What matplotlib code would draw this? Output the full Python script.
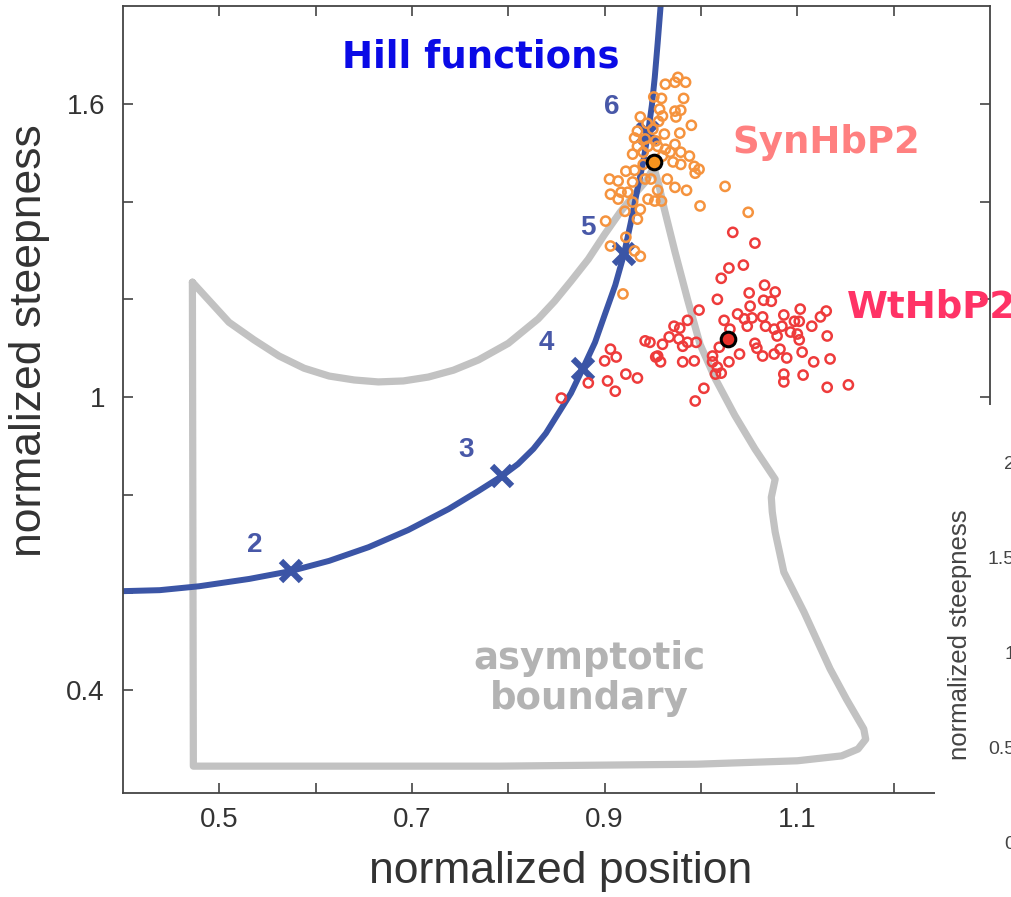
import matplotlib
matplotlib.use('Agg')
import matplotlib.pyplot as plt
from matplotlib.patches import Rectangle

# ---------------------------------------------------------------
# data
# ---------------------------------------------------------------
hill_x = [0.400, 0.438, 0.479, 0.531, 0.574, 0.614, 0.655, 0.696, 0.738,
          0.769, 0.793, 0.810, 0.826, 0.839, 0.852, 0.865, 0.877, 0.890,
          0.900, 0.911, 0.920, 0.927, 0.934, 0.940, 0.945, 0.949, 0.952,
          0.955, 0.958, 0.959]
hill_y = [0.603, 0.605, 0.613, 0.628, 0.644, 0.665, 0.693, 0.728, 0.771,
          0.808, 0.838, 0.863, 0.894, 0.926, 0.967, 1.008, 1.057, 1.112,
          1.168, 1.229, 1.292, 1.356, 1.425, 1.481, 1.540, 1.597, 1.654,
          1.724, 1.798, 1.826]

hill_n = ['2', '3', '4', '5', '6']
cross_x = [0.574, 0.793, 0.877, 0.920, 0.945]
cross_y = [0.644, 0.838, 1.057, 1.292, 1.540]

bound_x = [0.472, 0.510, 0.536, 0.562, 0.588, 0.614, 0.640, 0.665, 0.691,
           0.717, 0.743, 0.769, 0.800, 0.831, 0.848, 0.865, 0.883, 0.900,
           0.916, 0.931, 0.943, 0.951, 0.956, 0.962, 0.973, 0.986, 0.999,
           1.015, 1.035, 1.056, 1.077, 1.073, 1.074, 1.077, 1.086, 1.107,
           1.134, 1.151, 1.169, 1.171, 1.163, 1.146, 1.100, 0.996, 0.790,
           0.473, 0.472]
bound_y = [1.235, 1.153, 1.117, 1.084, 1.059, 1.043, 1.035, 1.031, 1.033,
           1.041, 1.055, 1.076, 1.110, 1.160, 1.196, 1.237, 1.282, 1.333,
           1.378, 1.415, 1.442, 1.470, 1.436, 1.384, 1.297, 1.200, 1.108,
           1.037, 0.963, 0.894, 0.832, 0.795, 0.765, 0.724, 0.642, 0.560,
           0.444, 0.382, 0.321, 0.300, 0.280, 0.266, 0.256, 0.249, 0.245,
           0.245, 1.235]

syn_x = [0.976, 0.984, 0.973, 0.963, 0.982, 0.951, 0.959, 0.957, 0.973, 0.979,
         0.960, 0.974, 0.956, 0.937, 0.944, 0.990, 0.934, 0.978, 0.931, 0.942,
         0.953, 0.934, 0.945, 0.973, 0.963, 0.955, 0.929, 0.940, 0.968, 0.979,
         0.988, 0.960, 0.971, 0.979, 0.993, 0.998, 0.994, 0.922, 0.931, 0.942,
         0.905, 0.914, 0.929, 0.965, 0.948, 0.973, 0.985, 0.955, 0.906, 0.917,
         0.924, 0.945, 0.952, 0.959, 0.914, 0.921, 0.929, 0.937, 0.999, 0.934,
         0.901, 0.922, 0.906, 0.931, 0.937, 0.919, 1.025, 1.049, 0.940, 0.950,
         0.962]
syn_y = [1.654, 1.644, 1.644, 1.640, 1.611, 1.614, 1.611, 1.589, 1.585, 1.587,
         1.575, 1.573, 1.564, 1.573, 1.560, 1.556, 1.544, 1.540, 1.530, 1.528,
         1.524, 1.513, 1.513, 1.517, 1.507, 1.513, 1.497, 1.501, 1.501, 1.501,
         1.493, 1.493, 1.481, 1.476, 1.472, 1.466, 1.458, 1.462, 1.464, 1.446,
         1.446, 1.442, 1.440, 1.446, 1.446, 1.429, 1.423, 1.423, 1.415, 1.419,
         1.419, 1.405, 1.401, 1.401, 1.405, 1.380, 1.399, 1.384, 1.391, 1.364,
         1.360, 1.327, 1.309, 1.299, 1.288, 1.211, 1.431, 1.378, 1.476, 1.548,
         1.538]

wt_x = [1.033, 1.056, 1.044, 1.029, 1.021, 1.066, 1.077, 1.050, 1.065, 1.073,
        1.017, 1.051, 0.998, 1.103, 1.130, 0.986, 1.024, 1.038, 1.045, 1.053,
        1.064, 1.086, 1.097, 1.102, 1.124, 1.115, 0.972, 0.978, 1.030, 1.048,
        1.067, 1.076, 1.084, 1.093, 1.100, 1.131, 0.967, 0.977, 0.995, 0.986,
        0.947, 0.960, 1.079, 1.102, 1.056, 0.981, 1.019, 1.058, 1.082, 1.105,
        1.076, 0.955, 1.012, 1.040, 1.064, 1.089, 1.134, 0.958, 0.981, 0.993,
        1.012, 1.029, 1.117, 1.017, 1.086, 1.106, 1.015, 1.021, 1.086, 1.131,
        1.153, 1.003, 0.994, 0.906, 0.912, 0.900, 0.883, 0.903, 0.922, 0.934,
        0.911, 0.855, 0.942, 0.953]
wt_y = [1.337, 1.315, 1.270, 1.264, 1.243, 1.229, 1.215, 1.213, 1.198, 1.196,
        1.200, 1.186, 1.178, 1.180, 1.176, 1.157, 1.157, 1.170, 1.160, 1.162,
        1.164, 1.168, 1.155, 1.155, 1.164, 1.145, 1.145, 1.141, 1.139, 1.145,
        1.145, 1.139, 1.145, 1.133, 1.129, 1.125, 1.123, 1.119, 1.112, 1.112,
        1.112, 1.108, 1.125, 1.117, 1.110, 1.104, 1.102, 1.100, 1.098, 1.092,
        1.088, 1.084, 1.084, 1.088, 1.084, 1.080, 1.078, 1.072, 1.072, 1.074,
        1.072, 1.072, 1.072, 1.061, 1.047, 1.045, 1.047, 1.049, 1.031, 1.020,
        1.025, 1.018, 0.992, 1.098, 1.082, 1.074, 1.029, 1.033, 1.047, 1.039,
        1.012, 0.998, 1.115, 1.082]

syn_mean = (0.951, 1.481)
wt_mean = (1.028, 1.119)

x_ticks = [0.5, 0.6, 0.7, 0.8, 0.9, 1.0, 1.1, 1.2]
x_labels = ['0.5', '', '0.7', '', '0.9', '', '1.1', '']
y_ticks = [0.4, 0.6, 0.8, 1.0, 1.2, 1.4, 1.6]
y_labels = ['0.4', '', '', '1', '', '', '1.6']

inset_ticks = [0, 0.5, 1, 1.5, 2]
inset_labels = ['0', '0.5', '1', '1.5', '2']

# ---------------------------------------------------------------
blue = '#3b55a6'
fig = plt.figure(figsize=(10.11, 8.97), dpi=100)
ax = fig.add_axes([0.1217, 0.1159, 0.8575, 0.8774])

ax.plot(bound_x, bound_y, color='#c2c2c2', lw=5.2, solid_joinstyle='round',
        solid_capstyle='round', zorder=1)
ax.plot(hill_x, hill_y, color=blue, lw=4.3, solid_joinstyle='round', zorder=2)
ax.plot(cross_x, cross_y, 'x', ms=15, mew=4.5, color=blue, zorder=2)
for n, cx, cy in zip(hill_n, cross_x, cross_y):
    ax.annotate(n, (cx, cy), xytext=(-36, 26), textcoords='offset pixels',
                ha='center', va='center', fontsize=20, fontweight='bold',
                color='#4858a8', family='Liberation Sans')

ax.scatter(syn_x, syn_y, s=44, facecolors='none', edgecolors='#f5933e',
           linewidths=1.8, zorder=3)
ax.scatter(wt_x, wt_y, s=44, facecolors='none', edgecolors='#ee3b3b',
           linewidths=1.8, zorder=3)
ax.plot(*syn_mean, 'o', ms=10.5, mfc='#f7941d', mec='black', mew=2.2, zorder=5)
ax.plot(*wt_mean, 'o', ms=10.5, mfc='#e8312a', mec='black', mew=2.2, zorder=5)

bold = dict(fontsize=26.7, fontweight='bold', family='DejaVu Sans', va='center')
ax.text(0.627, 1.695, 'Hill functions', color='#0a0ae6', ha='left', **bold)
ax.text(1.033, 1.521, 'SynHbP2', color='#ff8080', ha='left', **bold)
ax.text(1.151, 1.184, 'WtHbP2', color='#ff3366', ha='left', **bold)
ax.text(0.884, 0.425, 'asymptotic\nboundary', color='#b3b3b3', ha='center',
        multialignment='center', linespacing=1.1, **bold)

ax.set_xlim(0.4, 1.3)
ax.set_ylim(0.19, 1.8)
ax.set_xticks(x_ticks)
ax.set_xticklabels(x_labels)
ax.set_yticks(y_ticks)
ax.set_yticklabels(y_labels)
ax.tick_params(direction='in', top=True, right=True, length=7, width=1.2,
               color='#444444', labelcolor='#333333', labelsize=20)
ax.tick_params(axis='x', pad=10)
ax.tick_params(axis='y', pad=13)
for lab in ax.get_xticklabels() + ax.get_yticklabels():
    lab.set_family('Liberation Sans')
for sp in ax.spines.values():
    sp.set_color('#444444')
    sp.set_linewidth(1.3)

ax.set_xlabel('normalized position', fontsize=32, family='Liberation Sans',
              color='#333333')
ax.xaxis.set_label_coords(561 / 1011, 1 - 871 / 897, transform=fig.transFigure)
ax.xaxis.label.set_va('center')
ax.set_ylabel('normalized steepness', fontsize=32, family='Liberation Sans',
              color='#333333')
ax.yaxis.set_label_coords(30 / 1011, 1 - 341 / 897, transform=fig.transFigure)
ax.yaxis.label.set_va('center')

# white cover for the neighbouring panel, then its cut-off left axis
fig.add_artist(Rectangle((935 / 1011, 0), 1, 492 / 897, transform=fig.transFigure,
                         facecolor='white', edgecolor='none', zorder=1))
ax2 = fig.add_axes([1021 / 1011, 1 - 842 / 897, 0.3, 380 / 897], zorder=2)
ax2.set_ylim(0, 2)
ax2.set_yticks(inset_ticks)
ax2.set_yticklabels(inset_labels)
ax2.set_xticks([])
ax2.tick_params(axis='y', direction='in', length=0, pad=4.3, labelsize=14,
                labelcolor='#444444')
for lab in ax2.get_yticklabels():
    lab.set_family('Liberation Sans')
fig.text(960 / 1011, 1 - 635 / 897, 'normalized steepness', rotation=90,
         ha='center', va='center', fontsize=18.5, family='Liberation Sans',
         color='#444444', zorder=3)

fig.savefig('out.png', dpi=100)
